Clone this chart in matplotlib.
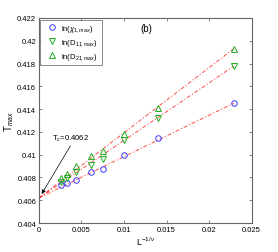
import matplotlib
matplotlib.use('Agg')
import matplotlib.pyplot as plt
import numpy as np

plt.rcParams['font.family'] = ['Liberation Sans', 'DejaVu Sans']
plt.rcParams['mathtext.fontset'] = 'custom'
plt.rcParams['mathtext.rm'] = 'Liberation Sans'
plt.rcParams['mathtext.it'] = 'Liberation Sans:italic'

# L^{-1/nu}
x = [0.00259, 0.00325, 0.00431, 0.00611, 0.00756, 0.00995, 0.01402, 0.02288]
chi1 = [0.40734, 0.40751, 0.40780, 0.40850, 0.40871, 0.40997, 0.41146, 0.41451]
d11 = [0.40757, 0.40792, 0.40850, 0.40912, 0.40965, 0.41131, 0.41319, 0.41776]
d21 = [0.40792, 0.40830, 0.40900, 0.40985, 0.41035, 0.41181, 0.41407, 0.41928]

# linear fits: T = Tc + slope * x
tc = 0.4062
slopes = [0.3632, 0.505, 0.572]
fit_range = [0.0, 0.0229]

fig = plt.figure(figsize=(2.78, 2.53), dpi=100)
ax = fig.add_axes([0.140, 0.1146, 0.765, 0.8104])

xf = np.array(fit_range)
for s in slopes:
    ax.plot(xf, tc + s * xf, linestyle='-.', dashes=(4, 2, 1.2, 2),
            color='red', lw=0.7, alpha=0.7)

blue = '#3a3aff'
green = '#1fae1f'
ax.plot(x, chi1, 'o', mfc='none', mec=blue, ms=4.0, mew=0.7, label=r'ln($\chi_{1,max}$)')
ax.plot(x, d11, 'v', mfc='none', mec=green, ms=4.2, mew=0.7, label=r'ln(D$_{11,max}$)')
ax.plot(x, d21, '^', mfc='none', mec=green, ms=4.2, mew=0.7, label=r'ln(D$_{21,max}$)')

ax.set_xlim(0, 0.025)
ax.set_ylim(0.404, 0.422)
ax.set_xticks([0, 0.005, 0.01, 0.015, 0.02, 0.025])
ax.set_xticklabels(['0', '0.005', '0.01', '0.015', '0.02', '0.025'])
ax.set_yticks([0.404, 0.406, 0.408, 0.41, 0.412, 0.414, 0.416, 0.418, 0.42, 0.422])
ax.set_yticklabels(['0.404', '0.406', '0.408', '0.41', '0.412', '0.414', '0.416', '0.418', '0.42', '0.422'])
ax.tick_params(direction='in', top=True, right=True, labelsize=5.5, length=2.5,
               width=0.5, color='#555555', pad=2)
for sp in ax.spines.values():
    sp.set_color('#666666')
    sp.set_linewidth(0.8)

ax.set_xlabel(r'L$^{-1/\nu}$', fontsize=6.5, labelpad=1)
ax.set_ylabel(r'T$_{max}$', fontsize=7, labelpad=1)

ax.annotate(r'T$_c$=0.4062', xy=(0.00032, 0.40655), xytext=(0.0015, 0.41146),
            fontsize=5.5, va='center',
            arrowprops=dict(arrowstyle='-|>', color='black', lw=0.5,
                            shrinkA=0, shrinkB=0, mutation_scale=6,
                            relpos=(0.55, 0.0)))

ax.text(0.01195, 0.4211, '(b)', fontsize=7, va='center')

leg = ax.legend(loc='upper left', fontsize=5.5, frameon=True, fancybox=False,
                borderpad=0.45, handletextpad=0.3, labelspacing=0.4,
                handlelength=2.0, borderaxespad=0.2)
leg.get_frame().set_edgecolor('#555555')
leg.get_frame().set_linewidth(0.6)

fig.savefig('out.png', dpi=100)
